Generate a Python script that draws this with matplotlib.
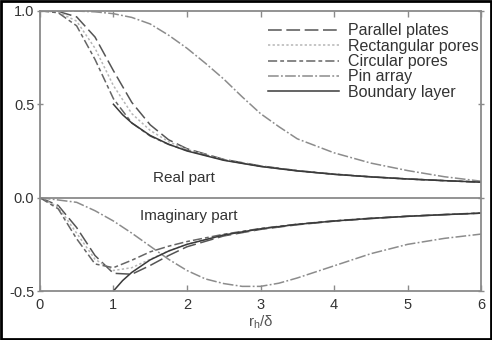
import matplotlib
matplotlib.use("Agg")
import matplotlib.pyplot as plt
from matplotlib.patches import Rectangle

# values (x = r_h / delta)
x_std = [0, 0.25, 0.5, 0.75, 1.0, 1.25, 1.5, 1.75, 2.0, 2.5, 3.0, 3.5, 4.0, 4.5, 5.0, 5.5, 6.0]

plates_re = [1.0, 0.997, 0.968, 0.86, 0.68, 0.51, 0.39, 0.31, 0.262, 0.205, 0.17, 0.145, 0.126, 0.112, 0.10, 0.091, 0.083]
rect_re = [1.0, 0.994, 0.945, 0.80, 0.60, 0.45, 0.36, 0.30, 0.258, 0.204, 0.169, 0.144, 0.126, 0.112, 0.10, 0.091, 0.083]
circ_re = [1.0, 0.99, 0.92, 0.74, 0.53, 0.40, 0.33, 0.285, 0.253, 0.202, 0.168, 0.144, 0.125, 0.111, 0.10, 0.091, 0.083]

plates_im = [0, -0.042, -0.16, -0.31, -0.405, -0.41, -0.363, -0.31, -0.263, -0.205, -0.17, -0.145, -0.126, -0.112, -0.10, -0.091, -0.083]
rect_im = [0, -0.05, -0.19, -0.33, -0.39, -0.375, -0.33, -0.285, -0.25, -0.20, -0.167, -0.143, -0.125, -0.111, -0.10, -0.091, -0.083]
circ_im = [0, -0.06, -0.22, -0.355, -0.375, -0.335, -0.29, -0.26, -0.235, -0.196, -0.165, -0.142, -0.124, -0.11, -0.099, -0.09, -0.082]

x_pin = [0, 0.5, 0.75, 1.0, 1.25, 1.5, 1.75, 2.0, 2.25, 2.5, 2.75, 3.0, 3.25, 3.5, 4.0, 4.5, 5.0, 5.5, 6.0]
pin_re = [1.0, 0.999, 0.995, 0.985, 0.965, 0.93, 0.87, 0.80, 0.72, 0.635, 0.54, 0.45, 0.38, 0.315, 0.24, 0.185, 0.145, 0.112, 0.088]
pin_im = [0, -0.025, -0.07, -0.125, -0.19, -0.26, -0.33, -0.39, -0.435, -0.46, -0.475, -0.475, -0.458, -0.43, -0.365, -0.30, -0.25, -0.218, -0.195]

x_bl = [1.0, 1.125, 1.25, 1.5, 1.75, 2.0, 2.5, 3.0, 3.5, 4.0, 4.5, 5.0, 5.5, 6.0]
bl_re = [0.5, 0.444, 0.4, 0.333, 0.286, 0.25, 0.2, 0.167, 0.143, 0.125, 0.111, 0.1, 0.091, 0.083]
bl_im = [-0.5, -0.444, -0.4, -0.333, -0.286, -0.25, -0.2, -0.167, -0.143, -0.125, -0.111, -0.1, -0.091, -0.083]

plt.rcParams["font.family"] = ["Liberation Sans", "DejaVu Sans"]

fig = plt.figure(figsize=(4.92, 3.40), dpi=100)
ax = fig.add_axes([0.081, 0.144, 0.897, 0.824])

styles = {
    "Parallel plates": dict(color="#555555", dashes=(9, 3)),
    "Rectangular pores": dict(color="#b5b5b5", dashes=(1.5, 1.5)),
    "Circular pores": dict(color="#666666", dashes=(6, 2, 2.5, 2)),
    "Pin array": dict(color="#8c8c8c", dashes=(7, 1.5, 1.2, 1.5)),
    "Boundary layer": dict(color="#3a3a3a"),
}

series = [
    ("Parallel plates", x_std, plates_re, plates_im),
    ("Rectangular pores", x_std, rect_re, rect_im),
    ("Circular pores", x_std, circ_re, circ_im),
    ("Pin array", x_pin, pin_re, pin_im),
    ("Boundary layer", x_bl, bl_re, bl_im),
]

for name, xs, re, im in series:
    ax.plot(xs, re, lw=1.1, label=name, **styles[name])
    ax.plot(xs, im, lw=1.1, **styles[name])

ax.axhline(0, color="#8a8a8a", lw=1.3, zorder=0)

ax.set_xlim(0, 6)
ax.set_ylim(-0.5, 1.0)
ax.set_xticks(range(7))
ax.set_yticks([-0.5, 0.0, 0.5, 1.0])
ax.set_yticklabels(["-0.5", "0.0", "0.5", "1.0"])
for s in ax.spines.values():
    s.set_color("#8a8a8a")
    s.set_linewidth(1.3)
ax.tick_params(direction="in", length=4, width=1, color="#8a8a8a",
               labelsize=10.5, labelcolor="#333333", top=True, right=True)
ax.tick_params(axis="y", direction="inout", pad=2)
ax.tick_params(axis="x", pad=5)

ax.text(1.96, 0.107, "Real part", fontsize=11, color="#333333", ha="center", va="center")
ax.text(2.02, -0.10, "Imaginary part", fontsize=11, color="#333333", ha="center", va="center")
ax.set_xlabel(r"r$_\mathregular{h}$/δ", fontsize=11, color="#555555", labelpad=1)

ax.legend(loc="upper right", bbox_to_anchor=(0.995, 0.955), frameon=False,
          fontsize=11.5, handlelength=4.4, handletextpad=0.6, labelspacing=0.02,
          borderaxespad=0, borderpad=0, labelcolor="#333333")

fig.patches.append(Rectangle((0.002, 0.003), 0.996, 0.994, transform=fig.transFigure,
                             fill=False, edgecolor="black", lw=2))

fig.savefig("out.png", dpi=100)
